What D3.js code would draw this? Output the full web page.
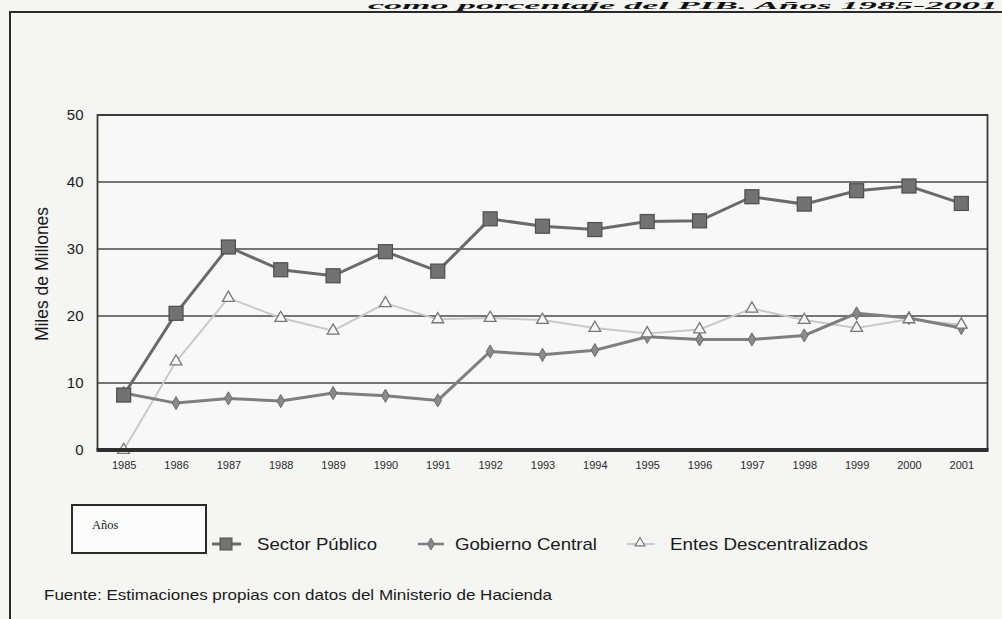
<!DOCTYPE html>
<html>
<head>
<meta charset="utf-8">
<script src="https://cdn.jsdelivr.net/npm/d3@7"></script>
<style>
  html, body { margin: 0; padding: 0; background: #f5f5f4; }
  svg { display: block; }
</style>
</head>
<body>
<svg id="chart" width="1002" height="619"></svg>
<script>
const years = ["1985","1986","1987","1988","1989","1990","1991","1992","1993","1994","1995","1996","1997","1998","1999","2000","2001"];
const sectorPublico = [8.2, 20.4, 30.3, 26.9, 26.0, 29.6, 26.7, 34.5, 33.4, 32.9, 34.1, 34.2, 37.8, 36.7, 38.7, 39.4, 36.8];
const gobiernoCentral = [8.5, 7.0, 7.7, 7.3, 8.5, 8.1, 7.4, 14.7, 14.2, 14.9, 16.9, 16.5, 16.5, 17.1, 20.4, 19.7, 18.2];
const entesDescentralizados = [0.0, 13.2, 22.7, 19.7, 17.8, 21.9, 19.5, 19.7, 19.4, 18.2, 17.4, 18.0, 21.1, 19.4, 18.2, 19.5, 18.7];
const yTicks = [0, 10, 20, 30, 40, 50];
const seriesNames = ["Sector Público", "Gobierno Central", "Entes Descentralizados"];
const yTitle = "Miles de Millones";
const xLegendLabel = "Años";
const sourceText = "Fuente: Estimaciones propias con datos del Ministerio de Hacienda";
const headingText = "como porcentaje del PIB. Años 1985-2001";

const svg = d3.select("#chart");
const L = 97.5, R = 987.5, T = 115, B = 450;

const x = d3.scalePoint().domain(years).range([L, R]).padding(0.5);
const y = d3.scaleLinear().domain([0, 50]).range([B, T]);

// heading strip at top of the scanned page
svg.append("text")
  .attr("x", 368).attr("y", 9)
  .attr("font-family", "Liberation Serif, serif")
  .attr("font-weight", "bold").attr("font-style", "italic")
  .attr("font-size", 11).attr("fill", "#111")
  .attr("textLength", 630).attr("lengthAdjust", "spacingAndGlyphs")
  .text(headingText);

// outer frame
svg.append("path")
  .attr("d", `M10,619 L10,12 L1002,12`)
  .attr("fill", "none").attr("stroke", "#2a2a2a").attr("stroke-width", 2);

// plot background
svg.append("rect").attr("x", L).attr("y", T).attr("width", R - L).attr("height", B - T)
  .attr("fill", "#f8f8f8");

// gridlines
svg.append("g").selectAll("line").data(yTicks.filter(d => d > 0 && d < 50)).join("line")
  .attr("x1", L).attr("x2", R)
  .attr("y1", d => y(d)).attr("y2", d => y(d))
  .attr("stroke", "#4a4a4a").attr("stroke-width", 1.5);

// frame of plot
svg.append("path")
  .attr("d", `M${L},${B} L${L},${T} L${R},${T} L${R},${B}`)
  .attr("fill", "none").attr("stroke", "#3a3a3a").attr("stroke-width", 1.8);

// y axis labels
const yAxis = d3.axisLeft(y).tickValues(yTicks).tickSize(0).tickPadding(14);
const gy = svg.append("g").attr("transform", `translate(${L},0)`).call(yAxis);
gy.select(".domain").remove();
gy.selectAll("text")
  .attr("font-family", "Liberation Sans, Arial, sans-serif")
  .attr("font-size", 15).attr("fill", "#1a1a1a");

// x axis labels
const xAxis = d3.axisBottom(x).tickSize(0).tickPadding(11);
const gx = svg.append("g").attr("transform", `translate(0,${B})`).call(xAxis);
gx.select(".domain").remove();
gx.selectAll("text")
  .attr("font-family", "Liberation Sans Narrow, Liberation Sans, Arial, sans-serif")
  .attr("font-size", 11).attr("fill", "#2a2a2a");

// y title
svg.append("text")
  .attr("transform", `translate(48,274) rotate(-90)`)
  .attr("text-anchor", "middle")
  .attr("font-family", "Liberation Sans, Arial, sans-serif")
  .attr("font-size", 17.5).attr("fill", "#1a1a1a")
  .text(yTitle);

const line = d3.line().x((d, i) => x(years[i])).y(d => y(d));

// Entes Descentralizados
svg.append("path").datum(entesDescentralizados)
  .attr("d", line).attr("fill", "none")
  .attr("stroke", "#c9c9c9").attr("stroke-width", 2);

// Gobierno Central
svg.append("path").datum(gobiernoCentral)
  .attr("d", line).attr("fill", "none")
  .attr("stroke", "#7f7f7f").attr("stroke-width", 3);

// Sector Público
svg.append("path").datum(sectorPublico)
  .attr("d", line).attr("fill", "none")
  .attr("stroke", "#6a6a6a").attr("stroke-width", 3);

const tri = d3.symbol().type(d3.symbolTriangle).size(60);
const dia = d3.symbol().type(d3.symbolDiamond).size(50);

svg.append("g").selectAll("path").data(gobiernoCentral).join("path")
  .attr("d", dia)
  .attr("transform", (d, i) => `translate(${x(years[i])},${y(d)})`)
  .attr("fill", "#8a8a8a").attr("stroke", "#6a6a6a").attr("stroke-width", 1);

svg.append("g").selectAll("path").data(entesDescentralizados).join("path")
  .attr("d", tri)
  .attr("transform", (d, i) => `translate(${x(years[i])},${y(d)})`)
  .attr("fill", "#f6f6f6").attr("stroke", "#777").attr("stroke-width", 1.3);

svg.append("g").selectAll("rect").data(sectorPublico).join("rect")
  .attr("x", (d, i) => x(years[i]) - 7).attr("y", d => y(d) - 7)
  .attr("width", 14).attr("height", 14)
  .attr("fill", "#727272").attr("stroke", "#4e4e4e").attr("stroke-width", 1.2);

// thick bottom axis line
svg.append("line")
  .attr("x1", L - 1).attr("x2", R + 1).attr("y1", B).attr("y2", B)
  .attr("stroke", "#2e2e2e").attr("stroke-width", 4);

// Legend: "Años" box
svg.append("rect").attr("x", 72).attr("y", 505).attr("width", 134).attr("height", 48)
  .attr("fill", "#fbfbfb").attr("stroke", "#2a2a2a").attr("stroke-width", 2);
svg.append("text").attr("x", 92).attr("y", 529)
  .attr("font-family", "Liberation Serif, serif").attr("font-size", 12.5).attr("fill", "#222")
  .text(xLegendLabel);

const legendY = 544;
const legendItems = [
  { name: seriesNames[0], cx: 226, lx1: 212, lx2: 241, tx: 257, tw: 120 },
  { name: seriesNames[1], cx: 431, lx1: 418, lx2: 444, tx: 455, tw: 142 },
  { name: seriesNames[2], cx: 640, lx1: 627, lx2: 655, tx: 670, tw: 198 }
];
const lg = svg.append("g");
lg.selectAll("line").data(legendItems).join("line")
  .attr("x1", d => d.lx1).attr("x2", d => d.lx2)
  .attr("y1", legendY).attr("y2", legendY)
  .attr("stroke", (d, i) => ["#6a6a6a", "#7f7f7f", "#c9c9c9"][i])
  .attr("stroke-width", (d, i) => [3, 2.5, 2][i]);
lg.append("rect").attr("x", 226 - 6).attr("y", legendY - 6).attr("width", 12).attr("height", 12)
  .attr("fill", "#727272").attr("stroke", "#4e4e4e");
lg.append("path").attr("d", d3.symbol().type(d3.symbolDiamond).size(40))
  .attr("transform", `translate(431,${legendY})`).attr("fill", "#8a8a8a").attr("stroke", "#6a6a6a");
lg.append("path").attr("d", d3.symbol().type(d3.symbolTriangle).size(40))
  .attr("transform", `translate(640,${legendY - 1})`).attr("fill", "#f6f6f6").attr("stroke", "#777").attr("stroke-width", 1.2);
lg.selectAll("text").data(legendItems).join("text")
  .attr("x", d => d.tx).attr("y", legendY + 6)
  .attr("font-family", "Liberation Sans, Arial, sans-serif")
  .attr("font-size", 17).attr("fill", "#1a1a1a")
  .attr("textLength", d => d.tw).attr("lengthAdjust", "spacingAndGlyphs")
  .text(d => d.name);

// source
svg.append("text").attr("x", 44).attr("y", 600)
  .attr("font-family", "Liberation Sans, Arial, sans-serif")
  .attr("font-size", 15).attr("fill", "#1a1a1a")
  .attr("textLength", 508).attr("lengthAdjust", "spacingAndGlyphs")
  .text(sourceText);
</script>
</body>
</html>
